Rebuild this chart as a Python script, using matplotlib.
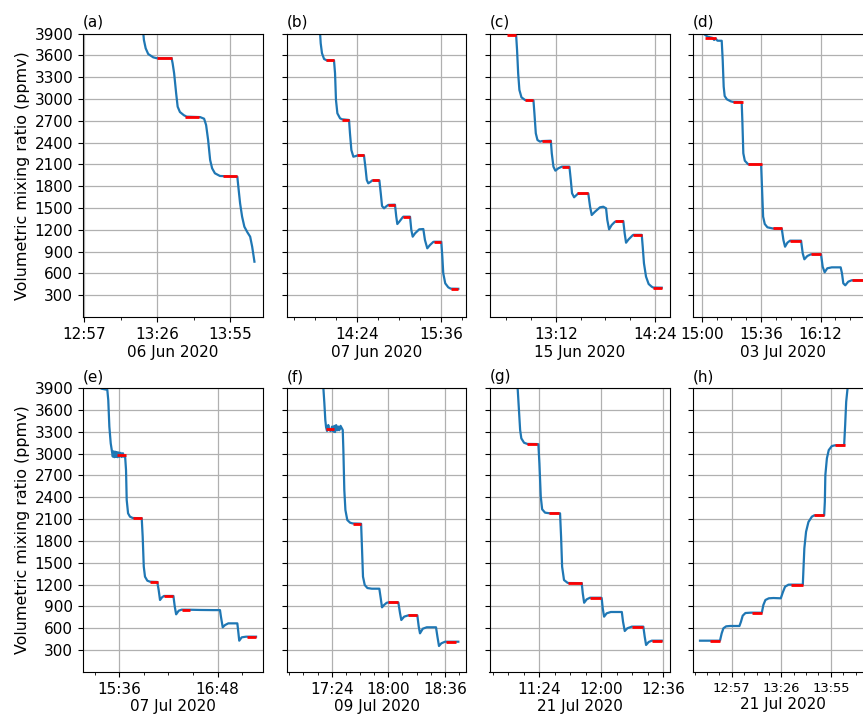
import matplotlib
matplotlib.use("Agg")
import matplotlib.pyplot as plt
import matplotlib.dates as mdates
from matplotlib.ticker import FixedLocator
import pandas as pd
import numpy as np

# ---------------- data (times are minutes after the panel reference hour) ----------------
# (a) 06 Jun 2020, ref 12:00
t_a = [80.3, 80.8, 81.5, 82.5, 84.5, 85.9, 91.8, 92.2, 92.8, 93.6, 94.2, 95.1, 96.7, 97.8,
       103.1, 104.7, 105.5, 106.3, 107.1, 107.9, 109.0, 111.0, 117.9, 118.3, 119.0, 119.8,
       120.7, 121.9, 123.0, 123.8, 124.7]
v_a = [4000, 3810, 3696, 3618, 3572, 3560, 3560, 3490, 3352, 3077, 2893, 2820, 2775, 2756,
       2750, 2728, 2641, 2435, 2160, 2045, 1977, 1940, 1930, 1793, 1564, 1380,
       1242, 1165, 1105, 967, 761]
red_a = [(85.9, 91.8, 3560), (97.1, 102.7, 2750), (112.1, 117.9, 1935)]

# (b) 07 Jun 2020, ref 13:00
t_b = [51.7, 52.6, 53.7, 55.5, 57.8, 64.0, 64.9, 65.7, 66.9, 69.2, 70.9, 76.9, 77.7, 78.9,
       80.6, 82.9, 84.0, 89.7, 90.9, 92.1, 93.4, 95.5, 96.6, 102.9, 104.1, 105.2, 106.9,
       109.2, 110.6, 116.3, 117.4, 118.3, 120.0, 122.9, 123.4, 129.2, 130.3, 131.5, 133.5,
       137.1, 140.6, 142.0, 144.0, 146.3, 149.1, 149.7, 156.0, 156.9, 157.7, 159.4, 162.0,
       164.1, 170.6]
v_b = [4000, 3765, 3628, 3549, 3531, 3530, 3352, 2985, 2802, 2733, 2720, 2710, 2527, 2297,
       2205, 2215, 2222, 2224, 2068, 1885, 1839, 1861, 1878, 1880, 1702, 1527, 1495,
       1527, 1542, 1545, 1380, 1279, 1311, 1372, 1380, 1380, 1197, 1105, 1151,
       1206, 1210, 1059, 945, 990, 1032, 1035, 1035, 830, 601, 463, 408,
       390, 388]
red_b = [(57.2, 64.0, 3530), (70.9, 76.9, 2715), (84.0, 89.7, 2222), (96.6, 102.9, 1880),
         (110.6, 116.3, 1545), (123.4, 129.2, 1380), (149.7, 156.0, 1035), (164.1, 170.6, 390)]

# (c) 15 Jun 2020, ref 12:00
t_c = [36.0, 43.2, 43.9, 44.7, 45.6, 47.1, 49.7, 55.8, 56.5, 57.5, 58.7, 60.6, 61.8, 68.4,
       69.1, 70.3, 71.7, 73.9, 76.4, 81.9, 82.9, 83.8, 85.3, 88.0, 95.6, 96.9, 98.1, 100.5,
       104.1, 106.5, 108.5, 109.4, 110.7, 112.6, 115.0, 121.0, 122.0, 123.0, 124.9, 127.8,
       128.3, 134.4, 135.1, 136.0, 137.5, 139.4, 141.6, 142.8, 148.9]
v_c = [3895, 3885, 3673, 3352, 3123, 3022, 2985, 2980, 2802, 2527, 2435, 2412, 2420, 2425,
       2252, 2068, 2013, 2046, 2068, 2068, 1885, 1702, 1647, 1695, 1700, 1517, 1403, 1449,
       1509, 1517, 1495, 1334, 1206, 1266, 1311, 1320, 1151, 1022, 1069, 1124,
       1130, 1130, 967, 739, 555, 454, 417, 405, 403]
red_c = [(36.5, 43.2, 3885), (49.7, 55.8, 2980), (61.8, 68.4, 2422), (76.4, 81.9, 2068),
         (87.2, 95.6, 1700), (115.0, 121.0, 1320), (128.3, 134.4, 1130), (142.8, 148.9, 405)]

# (d) 03 Jul 2020, ref 14:00
t_d = [61.0, 61.4, 63.5, 66.5, 67.5, 68.5, 69.5, 72.1, 72.7, 73.3, 73.9, 75.2, 77.6, 78.8,
       84.2, 84.6, 85.2, 86.1, 87.6, 88.2, 96.0, 96.5, 97.2, 98.2, 99.8, 103.0, 108.5,
       109.5, 110.5, 111.9, 113.5, 120.2, 121.2, 122.2, 124.0, 126.1, 132.3, 133.3, 134.5,
       136.1, 138.8, 144.2, 145.0, 145.8, 147.0, 148.8, 150.9, 158.0]
v_d = [3920, 3893, 3856, 3840, 3811, 3830, 3801, 3800, 3535, 3168, 3040, 2995, 2967, 2960,
       2958, 2710, 2252, 2150, 2114, 2100, 2100, 1793, 1380, 1279, 1234, 1218, 1215,
       1059, 967, 1022, 1050, 1050, 876, 794, 839, 862, 862, 692, 615,
       670, 683, 683, 601, 463, 436, 486, 505, 505]
red_d = [(61.8, 68.5, 3835), (78.8, 84.8, 2960), (88.2, 96.4, 2100), (103.0, 108.5, 1218),
         (113.5, 120.2, 1050), (126.1, 132.3, 862), (150.9, 158.0, 505)]

# (e) 07 Jul 2020, ref 15:00
t_e = [23.1, 27.2, 27.9, 28.7, 29.7, 31.2, 31.8, 32.4, 33.0, 33.6, 34.2, 34.8, 35.5, 36.2,
       37.0, 37.8, 38.6, 39.4, 40.2, 40.9, 41.4, 42.4, 43.8, 45.8, 52.4, 53.1, 53.9, 54.8,
       56.5, 58.5, 63.8, 64.8, 65.8, 67.3, 68.7, 75.6, 76.6, 77.6, 79.5, 81.7, 87.8, 95.1,
       104.8, 109.7, 110.4, 111.7, 113.4, 115.8, 122.4, 123.1, 123.8, 125.6, 128.8, 136.1]
v_e = [3890, 3875, 3734, 3368, 3140, 2958, 3030, 2950, 3025, 2955, 3020, 2950, 3015, 2955,
       3010, 2952, 3005, 2955, 2970, 2774, 2362, 2179, 2133, 2115, 2110, 1858, 1446, 1309,
       1254, 1240, 1236, 1126, 989, 1026, 1044, 1044, 897, 792, 842, 856, 855, 852,
       850, 850, 760, 614, 645, 668, 668, 553, 430, 476, 485, 485]
red_e = [(34.5, 40.9, 2980), (45.8, 52.4, 2112), (58.5, 64.6, 1236), (68.7, 75.1, 1042),
         (81.7, 87.8, 856), (129.3, 136.1, 485)]

# (f) 09 Jul 2020, ref 16:00
t_f = [78.6, 79.3, 79.9, 80.4, 81.0, 81.8, 82.5, 83.4, 84.2, 85.0, 85.6, 86.1, 86.8, 87.6,
       88.2, 88.8, 89.6, 90.6, 91.0, 91.4, 92.0, 92.7, 93.9, 95.7, 97.4, 102.7, 103.3,
       103.9, 105.0, 106.7, 109.5, 114.3, 115.2, 116.0, 117.3, 119.0, 120.1, 126.4, 127.5,
       128.3, 130.1, 132.8, 138.5, 139.4, 140.2, 142.0, 144.5, 150.4, 151.3, 152.3, 153.8,
       156.2, 164.6]
v_f = [3920, 3689, 3460, 3360, 3310, 3391, 3320, 3309, 3370, 3300, 3380, 3295, 3390, 3320,
       3370, 3320, 3380, 3340, 3323, 3048, 2499, 2224, 2087, 2050, 2040, 2036, 1675,
       1309, 1195, 1153, 1144, 1144, 1012, 888, 920, 951, 955, 955, 806,
       714, 760, 778, 778, 622, 531, 595, 614, 614, 485, 357, 394,
       416, 416]
red_f = [(80.4, 85.5, 3340), (97.4, 102.7, 2038), (120.1, 126.4, 955), (132.8, 138.5, 778),
         (156.6, 162.9, 416)]

# (g) 21 Jul 2020, ref 10:00
t_g = [71.3, 72.0, 72.8, 73.5, 75.1, 77.0, 82.8, 83.4, 84.0, 84.8, 85.6, 87.3, 89.8, 96.0,
       96.6, 97.2, 98.3, 100.3, 100.8, 108.6, 109.2, 110.0, 111.5, 113.4, 119.8, 120.2,
       120.8, 121.6, 123.1, 125.5, 131.9, 132.6, 133.6, 135.1, 137.7, 144.4, 145.2, 146.0,
       147.5, 149.3, 155.1]
v_g = [3920, 3643, 3323, 3208, 3148, 3132, 3130, 3128, 2865, 2407, 2234, 2188, 2180, 2179,
       1858, 1446, 1263, 1226, 1222, 1220, 1081, 951, 998, 1020, 1020, 1015,
       875, 760, 806, 824, 824, 691, 563, 600, 623, 623, 485, 371,
       412, 430, 430]
red_g = [(77.0, 82.8, 3130), (89.8, 95.6, 2180), (100.8, 108.6, 1222), (113.4, 119.8, 1020),
         (137.7, 144.4, 622), (149.3, 155.1, 430)]

# (h) 21 Jul 2020, ref 12:00
t_h = [38.4, 44.3, 50.1, 51.1, 52.1, 53.7, 56.0, 61.5, 62.4, 63.4, 65.0, 67.7, 68.7, 74.6,
       75.5, 76.7, 78.7, 81.4, 85.7, 86.9, 88.2, 90.2, 91.7, 98.6, 99.0, 99.5, 100.5, 101.9,
       103.9, 105.2, 111.1, 111.5, 111.8, 112.7, 113.8, 115.6, 117.5, 122.8, 123.4, 124.0,
       124.8, 125.2]
v_h = [430, 430, 430, 531, 600, 627, 632, 632, 691, 773, 810, 814, 815, 814,
       920, 989, 1012, 1016, 1012, 1094, 1171, 1199, 1200, 1199, 1424, 1698, 1926, 2060,
       2133, 2150, 2150, 2338, 2705, 2934, 3048, 3103, 3113, 3113, 3391, 3711,
       3895, 4000]
red_h = [(44.3, 50.1, 430), (68.7, 74.6, 815), (91.7, 98.6, 1200), (105.2, 111.1, 2150),
         (117.5, 123.4, 3113)]

labels = ["(a)", "(b)", "(c)", "(d)", "(e)", "(f)", "(g)", "(h)"]
dates = ["06 Jun 2020", "07 Jun 2020", "15 Jun 2020", "03 Jul 2020",
         "07 Jul 2020", "09 Jul 2020", "21 Jul 2020", "21 Jul 2020"]
ref_hours = [12, 13, 12, 14, 15, 16, 10, 12]
xlims = [(56.6, 128.1), (23.7, 177.2), (23.9, 154.9), (54.7, 163.8),
         (9.4, 141.2), (55.5, 169.5), (55.0, 159.9), (34.3, 139.7)]
major_ticks = [["12:57", "13:26", "13:55"], ["14:24", "15:36"], ["13:12", "14:24"],
               ["15:00", "15:36", "16:12"], ["15:36", "16:48"], ["17:24", "18:00", "18:36"],
               ["11:24", "12:00", "12:36"], ["12:57", "13:26", "13:55"]]
minor_steps = [14.5, 18, 18, 9, 18, 9, 9, 7.25]
yticks = [300, 600, 900, 1200, 1500, 1800, 2100, 2400, 2700, 3000, 3300, 3600, 3900]

series = [(t_a, v_a, red_a), (t_b, v_b, red_b), (t_c, v_c, red_c), (t_d, v_d, red_d),
          (t_e, v_e, red_e), (t_f, v_f, red_f), (t_g, v_g, red_g), (t_h, v_h, red_h)]

# ---------------- layout ----------------
W, H = 863, 715
fig = plt.figure(figsize=(W / 100, H / 100), dpi=100)
col_left = [83, 287, 489.5, 693]
col_w = [180, 179, 180.5, 180]
rows = [(33.5, 317), (388, 672)]
FS = 11.0

def to_dt(date, hour, minutes):
    base = pd.Timestamp(date) + pd.Timedelta(hours=hour)
    return [base + pd.Timedelta(minutes=float(m)) for m in minutes]

for i in range(8):
    r, c = divmod(i, 4)
    top, bot = rows[r]
    ax = fig.add_axes([col_left[c] / W, (H - bot) / H, col_w[c] / W, (bot - top) / H])
    t, v, red = series[i]
    d = dates[i]
    hr = ref_hours[i]
    ax.plot(to_dt(d, hr, t), v, color="#1f77b4", lw=1.6, zorder=2)
    for (s, e, val) in red:
        ax.plot(to_dt(d, hr, [s, e]), [val, val], color="red", lw=2.0,
                solid_capstyle="butt", zorder=3)
    x0, x1 = to_dt(d, hr, xlims[i])
    ax.set_xlim(x0, x1)
    ax.set_ylim(0, 3900)
    ax.set_yticks(yticks)
    # ticks
    day = pd.Timestamp(d)
    maj = [day + pd.Timedelta(hours=int(s[:2]), minutes=int(s[3:])) for s in major_ticks[i]]
    majn = mdates.date2num(maj)
    step = minor_steps[i] / 1440.0
    lo, hi = mdates.date2num(x0), mdates.date2num(x1)
    k0 = int(np.floor((lo - majn[0]) / step)) - 1
    k1 = int(np.ceil((hi - majn[0]) / step)) + 1
    minors = [majn[0] + k * step for k in range(k0, k1 + 1)
              if lo <= majn[0] + k * step <= hi]
    ax.xaxis.set_major_locator(FixedLocator(majn))
    ax.xaxis.set_minor_locator(FixedLocator(minors))
    ax.xaxis.set_major_formatter(mdates.DateFormatter("%H:%M"))
    ax.grid(True, which="major", color="#b0b0b0", lw=0.9)
    ax.set_axisbelow(True)
    tfs = 9.4 if i == 7 else FS
    ax.tick_params(axis="x", which="major", labelsize=tfs)
    ax.tick_params(axis="y", labelsize=FS)
    if c != 0:
        ax.set_yticklabels([])
    else:
        ax.set_ylabel("Volumetric mixing ratio (ppmv)", fontsize=11.4, labelpad=3)
    ax.set_xlabel(d, fontsize=FS, labelpad=2)
    ax.set_title(labels[i], loc="left", fontsize=FS, pad=5)

fig.savefig("out.png", dpi=100)
